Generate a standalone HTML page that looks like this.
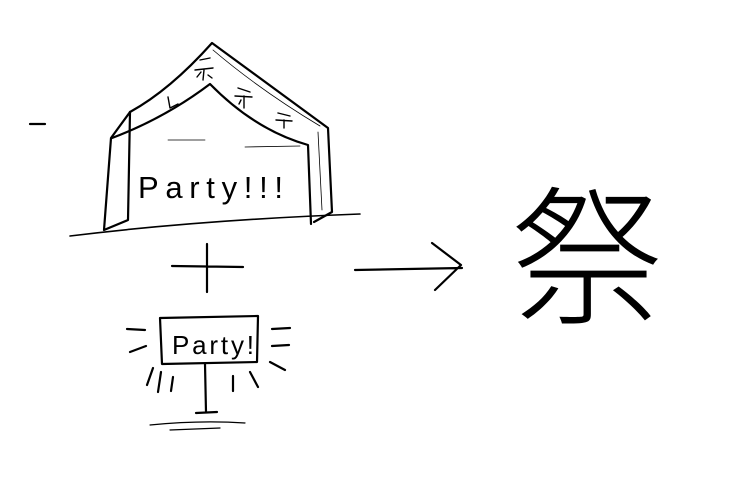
<!DOCTYPE html>
<html><head><style>
html,body{margin:0;padding:0;background:#fff;}
svg{display:block;}
</style></head><body>
<svg width="750" height="483" viewBox="0 0 750 483" xmlns="http://www.w3.org/2000/svg">
<g fill="none" stroke="#000" stroke-width="2.2" stroke-linecap="round" stroke-linejoin="round">
<path d="M30 124 L45 124"/>
<path d="M130 112 Q170 90 212 43 L328 128 L332 212 L314 222"/>
<path d="M112 138 Q165 118 210 84 Q255 130 308 145 L311 224"/>
<path d="M130 112 L111 138 L104 230 L128 220 L130 112"/>
<path d="M70 236 Q200 220 360 214" stroke-width="1.6"/>
<path d="M213 50 Q260 90 320 126" stroke-width="0.8"/>
<path d="M318 132 L322 210" stroke-width="0.8"/>
<path d="M168 140 L205 140 M245 147 L300 146" stroke-width="0.8"/>
<path d="M200 60 L210 58 M195 70 L213 68 M204 70 L203 80 M197 77 L201 72 M208 75 L212 78" stroke-width="1.4"/>
<path d="M238 88 L250 92 M235 96 L252 97 M244 96 L244 108 M239 104 L241 100" stroke-width="1.4"/>
<path d="M278 113 L290 116 M276 120 L292 121 M284 120 L284 128" stroke-width="1.4"/>
<path d="M168 97 L170 108 L178 104" stroke-width="1.4"/>
<path d="M207 244 L207 292 M172 266 L243 267"/>
<path d="M355 270 L462 268 M432 243 L461 265 L435 290"/>
<path d="M160 318 L258 316 L257 362 L162 364 Z"/>
<path d="M205 364 L206 412 M196 413 L217 412"/>
<path d="M127 329 L145 330 M130 352 L146 346 M153 368 L147 385 M161 372 L158 392 M173 377 L171 391 M233 376 L233 391 M250 372 L258 387 M272 329 L290 328 M272 346 L289 345 M270 362 L285 370"/>
<path d="M150 425 Q200 420 245 423 M170 430 L220 428" stroke-width="1.2"/>
</g>
<text x="138" y="198" font-family="Liberation Sans, sans-serif" font-size="31" fill="#000" textLength="145" lengthAdjust="spacing">Party!!!</text>
<text x="172" y="354" font-family="Liberation Sans, sans-serif" font-size="26" fill="#000" textLength="82" lengthAdjust="spacing">Party!</text>
<text x="512" y="312" font-family="Liberation Sans, 'Noto Sans CJK JP', sans-serif" font-size="150" font-weight="200" fill="#000">祭</text>
</svg>
</body></html>
